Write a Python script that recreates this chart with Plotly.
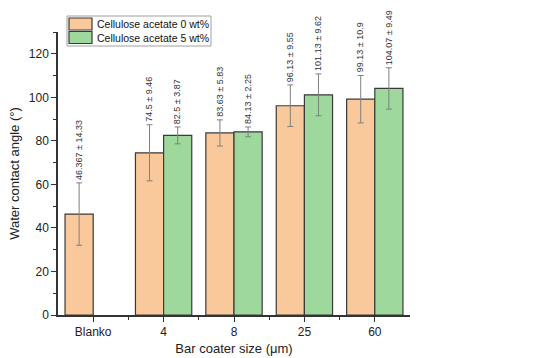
import plotly.graph_objects as go

categories = ["Blanko", "4", "8", "25", "60"]
ca0_values = [46.367, 74.5, 83.63, 96.13, 99.13]
ca0_errors = [14.33, 12.9, 6.0, 9.55, 10.9]
ca0_labels = ["46.367 ± 14.33", "74.5 ± 9.46", "83.63 ± 5.83", "96.13 ± 9.55", "99.13 ± 10.9"]
ca5_values = [None, 82.5, 84.13, 101.13, 104.07]
ca5_errors = [None, 3.87, 2.25, 9.62, 9.49]
ca5_labels = [None, "82.5 ± 3.87", "84.13 ± 2.25", "101.13 ± 9.62", "104.07 ± 9.49"]
series_names = ["Cellulose acetate 0 wt%", "Cellulose acetate 5 wt%"]
series_colors = ["#F9C89B", "#9ED89D"]

FONT = "Liberation Sans, Arial, sans-serif"
W, H = 559, 358
ML, MR, MT, MB = 58, 149, 32, 43
PW, PH = W - ML - MR, H - MT - MB
xs = list(range(len(categories)))


def px(x):
    return (x - ML) / PW


def py(y):
    return (H - MB - y) / PH


fig = go.Figure()
fig.add_trace(go.Bar(
    x=xs, y=ca0_values, name=series_names[0], showlegend=False,
    marker=dict(color=series_colors[0], line=dict(color="#3a3a3a", width=1.2)),
    error_y=dict(type="data", array=ca0_errors, color="#808080", thickness=1, width=3),
))
fig.add_trace(go.Bar(
    x=xs, y=ca5_values, name=series_names[1], showlegend=False,
    marker=dict(color=series_colors[1], line=dict(color="#3a3a3a", width=1.2)),
    error_y=dict(type="data", array=[e if e is not None else 0 for e in ca5_errors],
                 color="#808080", thickness=1, width=3),
))

annotations = []
for i, (v, e, t) in enumerate(zip(ca0_values, ca0_errors, ca0_labels)):
    annotations.append(dict(x=i - 0.2, y=v + e, text=t, textangle=-90, showarrow=False,
                            xanchor="center", yanchor="bottom", yshift=1,
                            font=dict(size=9, color="#333333", family=FONT)))
for i, (v, e, t) in enumerate(zip(ca5_values, ca5_errors, ca5_labels)):
    if v is None:
        continue
    annotations.append(dict(x=i + 0.2, y=v + e, text=t, textangle=-90, showarrow=False,
                            xanchor="center", yanchor="bottom", yshift=1,
                            font=dict(size=9, color="#333333", family=FONT)))

# manual legend (box + swatches + text)
shapes = [dict(type="rect", xref="paper", yref="paper",
               x0=px(67), x1=px(211), y0=py(46), y1=py(16),
               line=dict(color="#a0a0a0", width=1), fillcolor="white", layer="above")]
for k, (name, col) in enumerate(zip(series_names, series_colors)):
    top = 18 + k * 13.5
    shapes.append(dict(type="rect", xref="paper", yref="paper",
                       x0=px(69), x1=px(92), y0=py(top + 12), y1=py(top),
                       line=dict(color="#3a3a3a", width=1.2), fillcolor=col, layer="above"))
    annotations.append(dict(xref="paper", yref="paper", x=px(95), y=py(top + 6),
                            text=name, showarrow=False, xanchor="left", yanchor="middle",
                            font=dict(size=10.5, color="#111111", family=FONT)))

fig.update_layout(
    width=W, height=H,
    margin=dict(l=ML, r=MR, t=MT, b=MB, autoexpand=False),
    paper_bgcolor="white", plot_bgcolor="white",
    barmode="group", bargap=0.2, bargroupgap=0,
    font=dict(family=FONT, size=12, color="#222222"),
    annotations=annotations, shapes=shapes, showlegend=False,
    xaxis=dict(
        range=[-0.5, 4.5], tickmode="array", tickvals=xs, ticktext=categories,
        showline=True, linecolor="#333333", linewidth=1.5,
        ticks="outside", ticklen=5, tickwidth=1.2, tickcolor="#333333",
        minor=dict(tickmode="array", tickvals=[0.5, 1.5, 2.5, 3.5], ticks="outside",
                   ticklen=3, tickwidth=1, tickcolor="#333333"),
        showgrid=False, zeroline=False, automargin=False,
        tickfont=dict(size=12),
        title=dict(text="Bar coater size (μm)", font=dict(size=13), standoff=6),
    ),
    yaxis=dict(
        range=[0, 130], tickmode="linear", tick0=0, dtick=20,
        showline=True, linecolor="#333333", linewidth=1.5,
        ticks="outside", ticklen=5, tickwidth=1.2, tickcolor="#333333",
        minor=dict(tick0=0, dtick=10, ticks="outside", ticklen=3, tickwidth=1,
                   tickcolor="#333333"),
        showgrid=False, zeroline=False, automargin=False,
        tickfont=dict(size=12),
        title=dict(text="Water contact angle (°)", font=dict(size=13), standoff=6),
    ),
)

fig.write_html("out.html")
